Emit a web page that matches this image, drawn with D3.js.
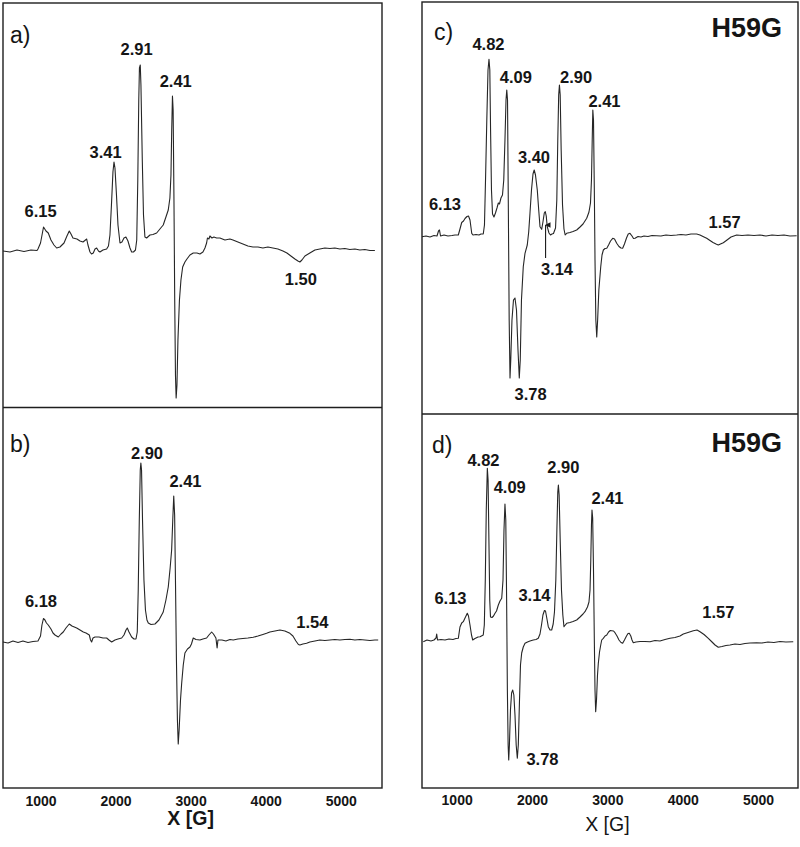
<!DOCTYPE html>
<html>
<head>
<meta charset="utf-8">
<script src="https://cdn.jsdelivr.net/npm/d3@7"></script>
<style>
  html, body { margin: 0; padding: 0; background: #ffffff; }
  svg { display: block; }
  text { font-family: "Liberation Sans", Arial, Helvetica, sans-serif; fill: #151515; }
</style>
</head>
<body>
<svg id="chart" width="800" height="847"></svg>
<script>
// ---------------- DATA ----------------
// x: magnetic field [G]; y: EPR intensity (arbitrary units, baseline = 0)
const tickValues = [1000, 2000, 3000, 4000, 5000];
const axisTitle = "X [G]";
const panelLetters = ["a)", "b)", "c)", "d)"];
const mutantName = "H59G";

const specA = [
 [500,0],[593,-1],[686,1],[780,-0.5],[873,1],[953,0.5],[966,2],[1000,8],[1040,24],[1073,20],[1103,18],
 [1139,11],[1179,6],[1215,3],[1259,4],[1313,8],[1352,15],[1383,20],[1406,17],[1432,13],[1485,12],
 [1526,10],[1566,9],[1599,11],[1615,12],[1632,6],[1659,-1],[1679,-3],[1703,-2],[1726,2],[1748,3],
 [1772,0],[1792,-1],[1832,1],[1881,2],[1905,5],[1925,16],[1945,46],[1965,79],[1979,89],[1992,83],
 [2012,56],[2032,26],[2059,8],[2085,9],[2112,13],[2138,14],[2165,10],[2192,3],[2214,-1],[2238,-1],
 [2265,1],[2282,11],[2296,71],[2309,151],[2318,183],[2329,186],[2338,166],[2356,91],[2372,36],
 [2391,14],[2414,13],[2458,16],[2498,16.5],[2547,18],[2591,22],[2635,26],[2671,34],[2702,41],
 [2724,53],[2738,76],[2748,121],[2758,155],[2767,141],[2778,51],[2788,-49],[2798,-124],[2807,-147],
 [2818,-134],[2831,-89],[2851,-49],[2871,-29],[2894,-16],[2924,-11],[2951,-8],[2991,-4],[3035,-2],
 [3084,-2],[3124,-3],[3164,-1],[3191,3],[3213,8],[3224,13],[3244,12],[3257,15],[3284,13],[3310,14],
 [3346,13],[3390,13],[3457,11],[3524,12],[3564,11],[3630,9],[3697,7],[3763,5],[3830,4],[3897,4],
 [3963,3],[4030,4],[4096,3],[4163,2],[4230,0],[4283,-2],[4336,-5],[4390,-8],[4430,-10],[4456,-11],
 [4483,-9],[4523,-5],[4589,-2],[4656,1],[4722,2],[4789,3],[4856,2.5],[4922,3],[4989,2],[5055,2.5],
 [5122,1.5],[5189,2],[5255,1],[5322,1.5],[5389,0.5],[5455,0.5]
];

const specB = [
 [500,0],[567,-1],[633,1],[700,-0.5],[766,1],[833,-0.5],[900,0.5],[966,1],[1000,6],[1019,17],
 [1039,23.5],[1059,22],[1079,19],[1103,17],[1139,13],[1166,9],[1193,7],[1237,5],[1273,8],[1303,10],
 [1339,14],[1383,18],[1419,16],[1482,14],[1526,12],[1570,10],[1606,9],[1650,7],[1666,2],[1681,0],
 [1699,4],[1725,5],[1779,5],[1832,4],[1881,4],[1912,2],[1948,0],[1992,2],[2032,3],[2081,4],[2112,7],
 [2139,12],[2156,14],[2179,10],[2214,5],[2245,3],[2272,3],[2289,10],[2302,52],[2316,122],[2329,172],
 [2337,179],[2346,172],[2359,122],[2378,62],[2398,32],[2418,22],[2436,19],[2472,17.5],[2525,18],
 [2578,22],[2635,30],[2671,42],[2702,55],[2727,74],[2747,92],[2762,122],[2775,146],[2787,127],
 [2798,62],[2811,-18],[2824,-78],[2835,-102],[2847,-88],[2865,-58],[2881,-41],[2902,-23],[2924,-11],
 [2958,-7],[2991,-5],[3011,-2],[3035,4],[3071,2.5],[3124,2],[3164,3],[3213,4],[3244,7],[3280,10],
 [3304,8],[3337,4],[3353,-6],[3364,2],[3417,2],[3470,1],[3524,2.5],[3568,2],[3630,3],[3697,3.5],
 [3763,4],[3834,4.7],[3897,6],[3963,7.5],[4012,8.7],[4056,10],[4123,11],[4190,12],[4256,11],
 [4323,8.7],[4363,6],[4403,1],[4436,-2.5],[4456,-3],[4496,-2],[4545,-1.3],[4589,0],[4656,1],[4722,2],
 [4789,1.5],[4856,2],[4922,2.5],[4989,2],[5055,2.5],[5122,2.7],[5189,2],[5255,2.5],[5322,2],
 [5389,1.5],[5455,2],[5499,2]
];

const specC = [
 [540,-0.7],[593,0],[646,-1],[699,0.5],[739,0],[759,5],[772,6],[786,0],[832,1],[885,0],[938,0.5],
 [978,1],[1022,1],[1044,7],[1067,13.5],[1091,15],[1111,17.5],[1137,19.5],[1157,20],[1177,16],
 [1200,2.7],[1217,1],[1257,1.5],[1296,1],[1323,2],[1353,2],[1369,11],[1383,56],[1400,116],[1416,166],
 [1429,176.7],[1440,166],[1450,106],[1462,46],[1476,22],[1495,19],[1515,23],[1535,28],[1553,33],
 [1568,32],[1588,38],[1608,41],[1625,56],[1641,96],[1655,136],[1665,146],[1675,136],[1685,36],
 [1697,-84],[1708,-142],[1718,-124],[1734,-84],[1754,-64],[1774,-62],[1794,-74],[1814,-114],
 [1831,-142],[1844,-124],[1860,-64],[1884,-30.7],[1907,-17.3],[1937,-9],[1956,4],[1973,22.7],
 [1993,46],[2013,62],[2029,66],[2046,61],[2070,46],[2089,26],[2106,9.3],[2128,6.7],[2145,14],
 [2163,23],[2176,24.3],[2189,20],[2202,9.3],[2225,3],[2245,1],[2265,2],[2285,2.5],[2312,8],[2329,36],
 [2342,96],[2354,141],[2364,151],[2374,141],[2387,86],[2405,31],[2424,7],[2440,1],[2460,2.7],
 [2504,3.5],[2544,4.5],[2593,6],[2637,9],[2677,12],[2726,17.7],[2756,24],[2776,33],[2789,56],
 [2799,96],[2807,126],[2816,116],[2827,46],[2836,-24],[2847,-84],[2859,-101],[2871,-84],[2887,-54],
 [2912,-30.7],[2929,-19],[2947,-14],[2969,-12.5],[2992,-12.3],[3016,-9],[3042,-5],[3071,-2.3],
 [3095,-3],[3124,-7.3],[3154,-10.5],[3181,-12],[3203,-12.3],[3227,-8],[3254,-2],[3277,2],[3300,2.7],
 [3327,0],[3347,-2.5],[3367,-2.3],[3407,-0.5],[3446,-1],[3486,0],[3539,-0.5],[3592,0.5],[3654,0.3],
 [3711,0],[3778,1],[3844,0.5],[3920,1],[3977,1.5],[4043,1],[4110,2],[4185,2],[4229,1],[4269,-0.5],
 [4318,-2.3],[4362,-4.5],[4402,-6.5],[4442,-8],[4472,-9],[4501,-8],[4539,-6.7],[4588,-4],[4641,-1],
 [4716,1],[4787,0.5],[4866,1],[4946,0.5],[5025,1],[5105,0],[5185,1],[5264,0.5],[5344,1],[5423,0],
 [5512,0.3]
];

const specD = [
 [557,-1.7],[606,0],[659,-1],[699,0],[726,2],[735,6],[746,0],[792,0.5],[845,0],[898,1],[951,0.5],
 [991,1.5],[1022,1.7],[1044,13],[1067,17],[1088,18.3],[1111,22],[1141,26.7],[1157,24],[1177,15],
 [1197,5],[1213,0],[1243,1.5],[1283,3],[1310,3.3],[1353,5],[1367,15],[1380,60],[1393,130],
 [1407,171.7],[1417,160],[1428,100],[1439,40],[1449,23],[1469,22.5],[1489,24],[1509,26.7],[1529,29],
 [1553,35],[1575,39],[1598,41.7],[1615,60],[1628,110],[1641,136],[1652,120],[1663,40],[1673,-50],
 [1683,-105],[1691,-120],[1700,-105],[1714,-70],[1729,-53],[1744,-50],[1759,-55],[1774,-75],
 [1790,-105],[1805,-118.3],[1818,-105],[1834,-60],[1847,-25],[1863,-13],[1884,-7],[1907,-3.3],
 [1940,-2],[1973,-1],[2017,0],[2053,0.5],[2083,1.7],[2106,6],[2126,15],[2145,25],[2165,29.5],
 [2179,29],[2196,22],[2216,13.3],[2239,10],[2261,10],[2281,16],[2298,28],[2316,60],[2330,110],
 [2342,148],[2350,155],[2360,145],[2374,100],[2391,50],[2409,25],[2424,13.3],[2442,15],[2460,16.7],
 [2504,17.5],[2544,18.5],[2593,20],[2637,23],[2677,26],[2703,28.3],[2736,33],[2756,38],[2770,50],
 [2780,80],[2789,115],[2796,130],[2805,122],[2816,70],[2827,0],[2836,-50],[2845,-71.7],[2856,-60],
 [2869,-35],[2880,-23.3],[2896,-12],[2912,-5],[2925,0],[2946,1.7],[2969,4],[2992,5],[3016,8],
 [3039,9.5],[3058,9.3],[3082,9],[3101,7.3],[3128,4],[3154,0],[3181,-2.5],[3203,-3.3],[3227,0],
 [3254,4],[3274,6.5],[3291,6.7],[3311,4],[3327,0],[3344,-2.7],[3380,-2],[3433,-1.5],[3499,-1.5],
 [3566,-1.7],[3632,-0.5],[3698,-1],[3765,0.5],[3831,1.7],[3897,2.5],[3964,4],[4008,6],[4070,7.5],
 [4141,9.3],[4190,10],[4230,8.3],[4283,5.5],[4340,1.7],[4389,-2],[4429,-5],[4472,-7.3],[4521,-6.5],
 [4574,-5.5],[4627,-5],[4694,-4],[4760,-4.5],[4826,-3.5],[4893,-3],[4981,-2.7],[5052,-3],[5131,-2],
 [5211,-2.5],[5291,-1.5],[5370,-2],[5467,-1.7]
];

// g-value annotations: [text, field G, intensity]
const labelsA = [["6.15",1000,34],["3.41",1868,93],["2.91",2281,196],["2.41",2802,164],["1.50",4469,-34]];
const labelsB = [["6.18",1006,34.7],["2.90",2418,183],["2.41",2931,155],["1.54",4623,14.3]];
const labelsC = [["6.13",845,26],["4.82",1422,186],["4.09",1785,153],["3.40",2026,73.3],["2.90",2584,153],
                 ["2.41",2962,129.3],["3.14",2331,-39],["3.78",1981,-164],["1.57",4557,8]];
const labelsD = [["6.13",918,36],["4.82",1356,174],["4.09",1704,147.3],["3.14",2033,39.3],["2.90",2415,167],
                 ["2.41",3002,136],["3.78",2139,-125],["1.57",4472,22]];
// arrow in panel c pointing to the 3.14 feature: [field, from intensity, to intensity]
const arrowC = [2180, -22, 11];

// ---------------- LAYOUT ----------------
const svg = d3.select("#chart");
svg.append("rect").attr("width", 800).attr("height", 847).attr("fill", "#ffffff");

const defs = svg.append("defs");
defs.append("marker").attr("id", "arrowhead").attr("viewBox", "0 0 10 10")
  .attr("refX", 5).attr("refY", 1).attr("markerWidth", 5).attr("markerHeight", 6)
  .attr("orient", "auto-start-reverse")
  .append("path").attr("d", "M0,10 L5,0 L10,10 Z").attr("fill", "#1a1a1a");

const cols = [
  { x0: 3, x1: 382, dom: [500, 5550], top: 3, mid: 407.5, bot: 788, boldTitle: true, tickY: 805.5, titleY: 825 },
  { x0: 422, x1: 798, dom: [540, 5530], top: 2, mid: 414, bot: 788, boldTitle: false, tickY: 804.5, titleY: 831 }
];

const panels = [
  { col: 0, y0: 3, y1: 407.5, dom: [-156.5, 248], spec: specA, labels: labelsA, letter: panelLetters[0], lx: 7, ly: 40, h59: false },
  { col: 0, y0: 407.5, y1: 788, dom: [-146, 234.5], spec: specB, labels: labelsB, letter: panelLetters[1], lx: 7, ly: 44, h59: false },
  { col: 1, y0: 2, y1: 414, dom: [-178, 234], spec: specC, labels: labelsC, letter: panelLetters[2], lx: 12, ly: 38, h59: true, hy: 35 },
  { col: 1, y0: 414, y1: 788, dom: [-148, 226], spec: specD, labels: labelsD, letter: panelLetters[3], lx: 10, ly: 39, h59: true, hy: 38 }
];

cols.forEach(c => {
  c.x = d3.scaleLinear().domain(c.dom).range([c.x0, c.x1]);
});

const lineColor = "#262626";

panels.forEach((p, i) => {
  const c = cols[p.col];
  const x = c.x;
  const y = d3.scaleLinear().domain(p.dom).range([p.y1, p.y0]);
  const g = svg.append("g");

  const line = d3.line().x(d => x(d[0])).y(d => y(d[1])).curve(d3.curveLinear);
  g.append("path").datum(p.spec).attr("d", line)
    .attr("fill", "none").attr("stroke", lineColor).attr("stroke-width", 1.1)
    .attr("stroke-linejoin", "round");

  g.selectAll("text.peak").data(p.labels).enter().append("text")
    .attr("class", "peak")
    .attr("x", d => x(d[1])).attr("y", d => y(d[2]))
    .attr("text-anchor", "middle")
    .attr("font-size", 16.5).attr("font-weight", "bold")
    .text(d => d[0]);

  g.append("text").attr("x", c.x0 + p.lx).attr("y", p.y0 + p.ly)
    .attr("font-size", 23).attr("font-weight", "normal").text(p.letter);

  if (p.h59) {
    g.append("text").attr("x", c.x1 - 16).attr("y", p.y0 + p.hy)
      .attr("text-anchor", "end").attr("font-size", 27).attr("font-weight", "bold").text(mutantName);
  }

  if (i === 2) {
    g.append("line")
      .attr("x1", x(arrowC[0])).attr("x2", x(arrowC[0]))
      .attr("y1", y(arrowC[1])).attr("y2", y(arrowC[2]))
      .attr("stroke", "#1a1a1a").attr("stroke-width", 1.1)
      .attr("marker-end", "url(#arrowhead)");
  }
});

// frames, dividers and x axes
cols.forEach(c => {
  svg.append("rect").attr("x", c.x0).attr("y", c.top)
    .attr("width", c.x1 - c.x0).attr("height", c.bot - c.top)
    .attr("fill", "none").attr("stroke", "#1e1e1e").attr("stroke-width", 1.4);
  svg.append("line").attr("x1", c.x0).attr("x2", c.x1).attr("y1", c.mid).attr("y2", c.mid)
    .attr("stroke", "#1e1e1e").attr("stroke-width", 1.4);

  const axis = d3.axisBottom(c.x).tickValues(tickValues).tickSize(0).tickPadding(0)
    .tickFormat(d3.format("d"));
  const ag = svg.append("g").attr("transform", `translate(0,${c.bot})`).call(axis);
  ag.select(".domain").remove();
  ag.selectAll("text")
    .attr("y", c.tickY - c.bot).attr("dy", 0)
    .attr("font-family", "\"Liberation Sans\", Arial, sans-serif")
    .attr("font-size", 14).attr("font-weight", "bold").attr("fill", "#151515");

  svg.append("text").attr("x", c.x(3000)).attr("y", c.titleY)
    .attr("text-anchor", "middle").attr("font-size", 19.5)
    .attr("font-weight", c.boldTitle ? "bold" : "normal").text(axisTitle);
});
</script>
</body>
</html>
